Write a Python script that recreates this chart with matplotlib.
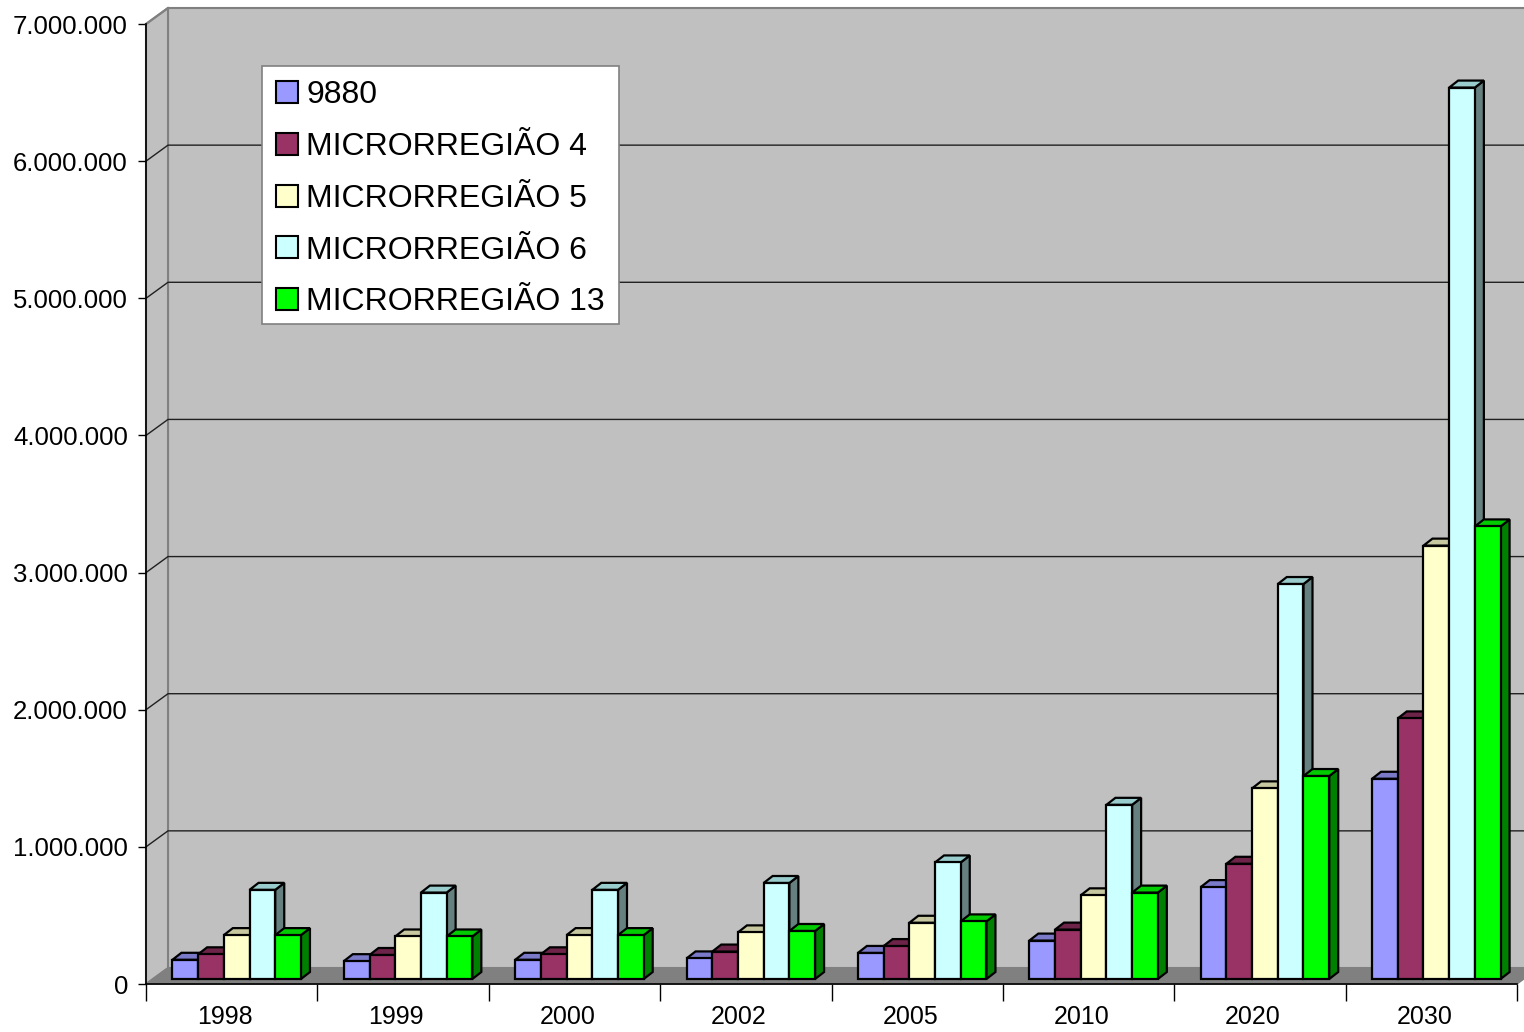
import matplotlib
matplotlib.use("Agg")
import matplotlib.pyplot as plt
from matplotlib.patches import Polygon, Patch, Rectangle
from matplotlib.ticker import FuncFormatter, FixedLocator
from matplotlib.transforms import ScaledTranslation
import numpy as np

plt.rcParams['font.family'] = ['Liberation Sans', 'DejaVu Sans']

years = ['1998', '1999', '2000', '2002', '2005', '2010', '2020', '2030']
series_names = ['9880', 'MICRORREGIÃO 4', 'MICRORREGIÃO 5', 'MICRORREGIÃO 6', 'MICRORREGIÃO 13']
s_9880 = [140000, 130000, 140000, 150000, 190000, 280000, 670000, 1460000]
s_mr4 = [180000, 175000, 180000, 200000, 240000, 360000, 840000, 1900000]
s_mr5 = [320000, 310000, 320000, 340000, 410000, 610000, 1390000, 3160000]
s_mr6 = [650000, 630000, 650000, 700000, 850000, 1270000, 2880000, 6500000]
s_mr13 = [320000, 310000, 320000, 350000, 420000, 630000, 1480000, 3300000]
series = [s_9880, s_mr4, s_mr5, s_mr6, s_mr13]
colors = ['#9999ff', '#993366', '#ffffcc', '#ccffff', '#00ff00']
tops = ['#7a7ac8', '#6e2448', '#c8c8a0', '#99cccc', '#00cc00']
sides = ['#5c5c99', '#5c1f3d', '#99997a', '#668080', '#008000']

W, H, DPI = 1524, 1032, 100
fig = plt.figure(figsize=(W / DPI, H / DPI), dpi=DPI)
fig.patch.set_facecolor('white')

ax_l, ax_r, ax_b, ax_t = 146, 1517, 984, 24
ax = fig.add_axes([ax_l / W, 1 - ax_b / H, (ax_r - ax_l) / W, (ax_b - ax_t) / H])
ax.set_xlim(-0.5, 7.5)
ax.set_ylim(0, 7e6)
ax.patch.set_visible(False)

pxx = 8.0 / (ax_r - ax_l)
pxy = 7e6 / (ax_b - ax_t)
DX, DY = 22 * pxx, 16 * pxy  # wall depth
ox, oy = 5 * pxx, 5 * pxy    # bar front offset
bdx, bdy = 9 * pxx, 7 * pxy  # bar depth

# walls
ax.add_patch(Polygon([(-0.5 + DX, DY), (7.5 + DX, DY), (7.5 + DX, 7e6 + DY), (-0.5 + DX, 7e6 + DY)],
                     closed=True, facecolor='#c0c0c0', edgecolor='#808080', lw=1.5, clip_on=False, zorder=1))
ax.add_patch(Polygon([(-0.5, 0), (-0.5, 7e6), (-0.5 + DX, 7e6 + DY), (-0.5 + DX, DY)],
                     closed=True, facecolor='#c0c0c0', edgecolor='#808080', lw=1.5, clip_on=False, zorder=1))
ax.add_patch(Polygon([(-0.5, 0), (7.5, 0), (7.5 + DX, DY), (-0.5 + DX, DY)],
                     closed=True, facecolor='#808080', edgecolor='#808080', lw=1, clip_on=False, zorder=2))
for k in range(1, 7):
    v = k * 1e6
    ax.plot([-0.5, -0.5 + DX, 7.5 + DX], [v, v + DY, v + DY], color='#202020', lw=1, clip_on=False, zorder=2)
ax.plot([-0.5, -0.5 + DX], [7e6, 7e6 + DY], color='#808080', lw=1.5, clip_on=False, zorder=2)

x = np.arange(len(years))
bw = 0.15
for j, vals in enumerate(series):
    xc = x - 0.3 + j * bw + ox
    z = 10 + j * 3
    for xi, v in zip(xc, vals):
        x0, x1 = xi - bw / 2, xi + bw / 2
        ax.add_patch(Polygon([(x1, oy), (x1, v + oy), (x1 + bdx, v + oy + bdy), (x1 + bdx, oy + bdy)],
                             closed=True, facecolor=sides[j], edgecolor='black', lw=1.6, zorder=z, clip_on=False))
        ax.add_patch(Polygon([(x0, v + oy), (x1, v + oy), (x1 + bdx, v + oy + bdy), (x0 + bdx, v + oy + bdy)],
                             closed=True, facecolor=tops[j], edgecolor='black', lw=1.6, zorder=z + 1, clip_on=False))
    ax.bar(xc, vals, width=bw, bottom=oy, color=colors[j], edgecolor='black', lw=1.6, zorder=z + 2, clip_on=False)

for s in ['top', 'right']:
    ax.spines[s].set_visible(False)
for s in ['left', 'bottom']:
    ax.spines[s].set_color('black')
    ax.spines[s].set_linewidth(1.2)
    ax.spines[s].set_zorder(50)

ax.yaxis.set_major_locator(FixedLocator(np.arange(0, 7e6 + 1, 1e6)))
ax.yaxis.set_major_formatter(FuncFormatter(lambda v, p: '0' if v == 0 else f'{int(v):,}'.replace(',', '.')))
ax.tick_params(axis='y', length=6, width=1, pad=7, labelsize=18.5, color='black')

ax.xaxis.set_major_locator(FixedLocator(np.arange(-0.5, 8, 1)))
ax.xaxis.set_minor_locator(FixedLocator(x))
ax.xaxis.set_major_formatter(FuncFormatter(lambda v, p: ''))
ax.set_xticks(x, years, minor=True)
ax.tick_params(axis='x', which='major', length=12, width=1, color='black')
ax.tick_params(axis='x', which='minor', length=0, pad=15, labelsize=18)
shift = ScaledTranslation(-7 / DPI, 0, fig.dpi_scale_trans)
for lab in ax.get_xticklabels(minor=True):
    lab.set_transform(lab.get_transform() + shift)

# legend frame
fig.add_artist(Rectangle((262 / W, 1 - 324 / H), (619 - 262) / W, (324 - 66) / H,
                         transform=fig.transFigure, facecolor='white', edgecolor='#808080',
                         lw=1.2, zorder=90))
handles = [Patch(facecolor=c, edgecolor='black', lw=1.5) for c in colors]
leg = fig.legend(handles, series_names, loc='upper left', bbox_to_anchor=(262 / W, 1 - 66 / H),
                 fontsize=23, frameon=False, borderaxespad=0, borderpad=0.45,
                 handlelength=0.68, handleheight=0.68, handletextpad=0.26, labelspacing=0.68)
leg.set_zorder(100)

fig.savefig('out.png', dpi=DPI, facecolor='white')
